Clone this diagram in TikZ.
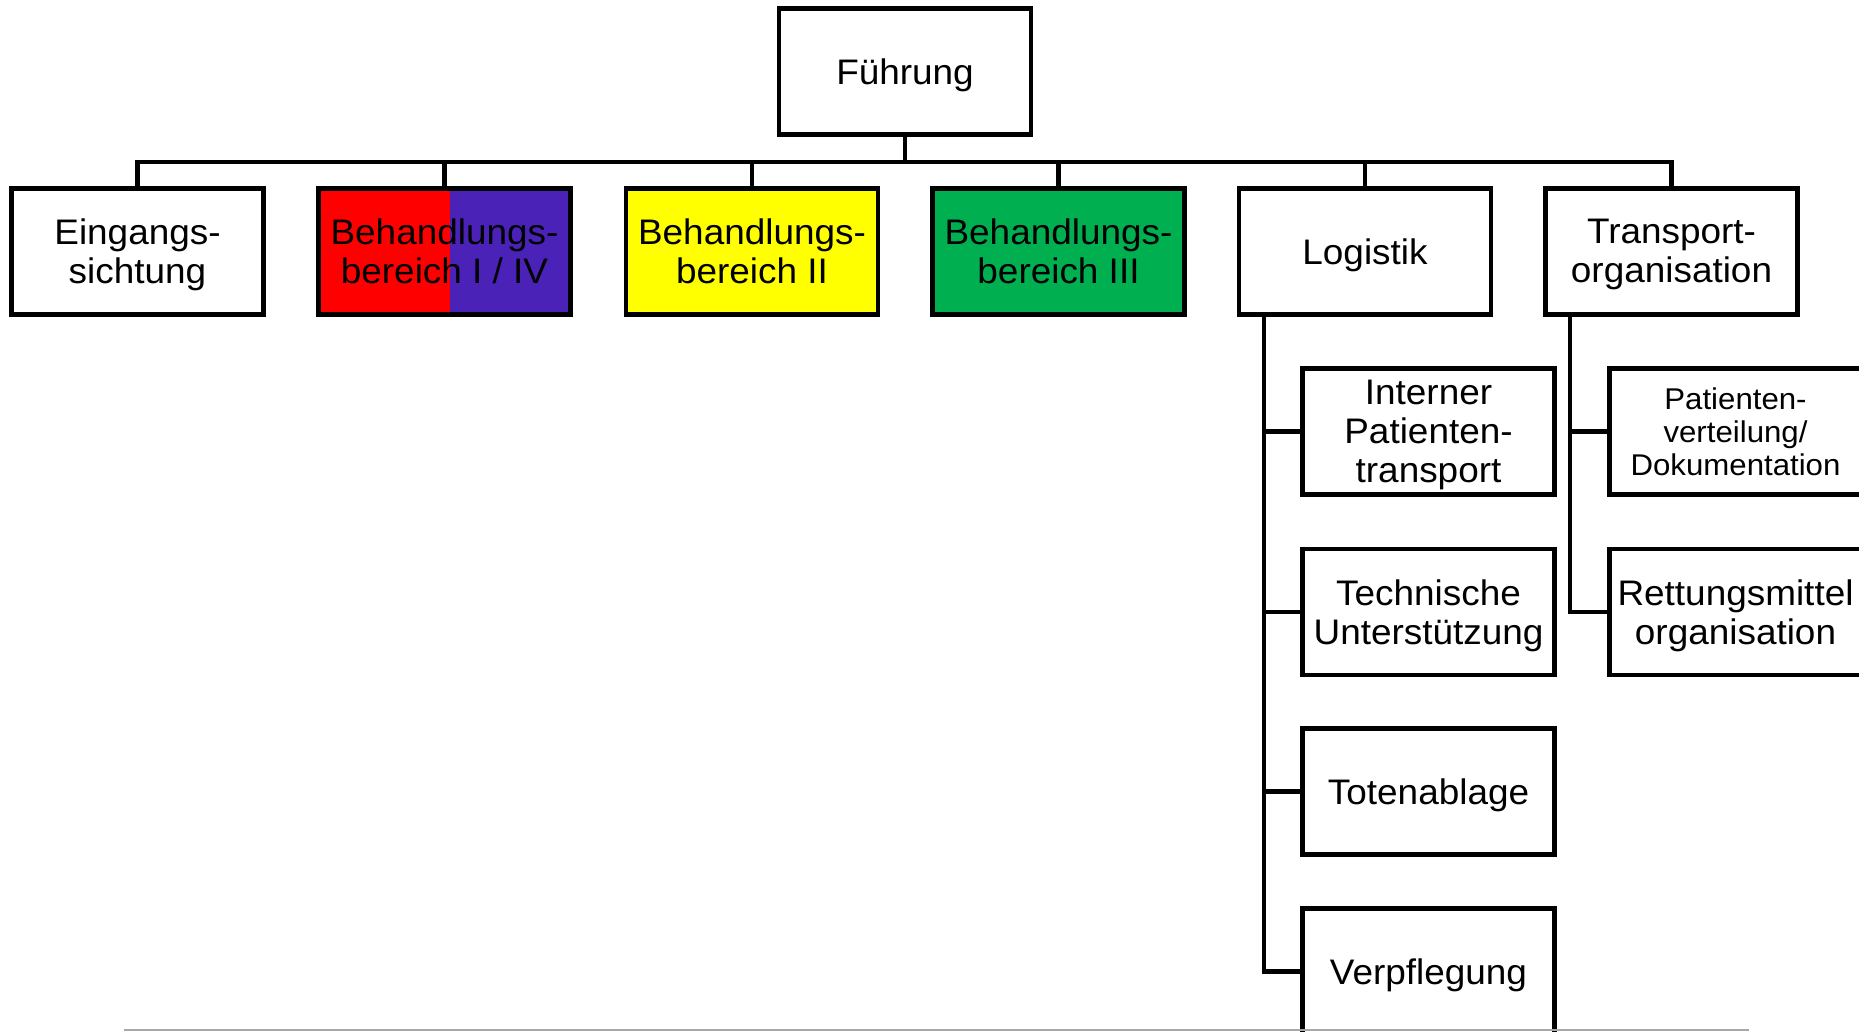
\documentclass[tikz,border=0pt]{standalone}
\usepackage{fontspec}
\setmainfont{Liberation Sans}[FakeStretch=1.04]
\definecolor{bred}{HTML}{FF0000}
\definecolor{bpurp}{HTML}{4A22B8}
\definecolor{byel}{HTML}{FFFF00}
\definecolor{bgreen}{HTML}{00B050}
\definecolor{rule}{HTML}{A8A8A8}
\begin{document}
\begin{tikzpicture}[x=1pt,y=-1pt,
  box/.style={draw=black, line width=4.5pt, minimum width=252pt, minimum height=126pt,
    inner sep=0pt},
  lbl/.style={inner sep=0pt, align=center, yshift=-3.5pt, text depth=7.5pt, font=\fontsize{35.5}{39}\selectfont},
  slbl/.style={inner sep=0pt, align=center, yshift=-0.5pt, font=\fontsize{30}{33}\selectfont},
  conn/.style={draw=black, line width=4.5pt}]
\useasboundingbox (0,0) rectangle (1859,1032);
\clip (0,0) rectangle (1859,1032);
% top
\node[box, label={[lbl]center:{Führung}}] (fu) at (905,71.5) {};
% row 1
\node[box, label={[lbl]center:{Eingangs-\\sichtung}}] (ein) at (137.5,251.5) {};
\node[box, path picture={
   \fill[bred] (path picture bounding box.north west) rectangle ([xshift=5.5pt]path picture bounding box.south);
   \fill[bpurp] ([xshift=5.5pt]path picture bounding box.north) rectangle (path picture bounding box.south east);},
   label={[lbl]center:{Behandlungs-\\bereich I / IV}}]
  (b1) at (444.5,251.5) {};
\node[box, fill=byel, label={[lbl]center:{Behandlungs-\\bereich II}}] (b2) at (752,251.5) {};
\node[box, fill=bgreen, label={[lbl]center:{Behandlungs-\\bereich III}}] (b3) at (1058.5,251.5) {};
\node[box, label={[lbl]center:{Logistik}}] (log) at (1365,251.5) {};
\node[box, label={[lbl]center:{Transport-\\organisation}}] (tr) at (1671.5,251.5) {};
% logistik children
\node[box, label={[lbl]center:{Interner\\Patienten-\\transport}}] (ipt) at (1428.5,431.5) {};
\node[box, label={[lbl]center:{Technische\\Unterstützung}}] (tech) at (1428.5,612) {};
\node[box, label={[lbl]center:{Totenablage}}] (tot) at (1428.5,791.5) {};
\node[box, label={[lbl]center:{Verpflegung}}] (ver) at (1428.5,971.5) {};
% transport children
\node[box, label={[slbl]center:{Patienten-\\verteilung/\\Dokumentation}}] (pv) at (1735.5,431.5) {};
\node[box, label={[lbl]center:{Rettungsmittel\\organisation}}] (rm) at (1735.5,612) {};
% bus
\coordinate (bus) at (905,162);
\coordinate (lx) at (1264,0);
\coordinate (tx) at (1570,0);
\draw[conn] (fu.south) -- (bus);
\draw[conn] (ein.north) -- (ein.north |- bus) -- (tr.north |- bus) -- (tr.north);
\foreach \n in {b1,b2,b3,log} \draw[conn] (\n.north) -- (\n.north |- bus);
% logistik trunk
\draw[conn] (log.south -| lx) |- (ver.west);
\foreach \n in {ipt,tech,tot} \draw[conn] (\n.west -| lx) -- (\n.west);
% transport trunk
\draw[conn] (tr.south -| tx) |- (rm.west);
\draw[conn] (pv.west -| tx) -- (pv.west);
% bottom rule
\coordinate (r1) at (124,1030);
\coordinate (r2) at (1749,1030);
\draw[rule, line width=2pt] (r1) -- (r2);
\end{tikzpicture}
\end{document}
